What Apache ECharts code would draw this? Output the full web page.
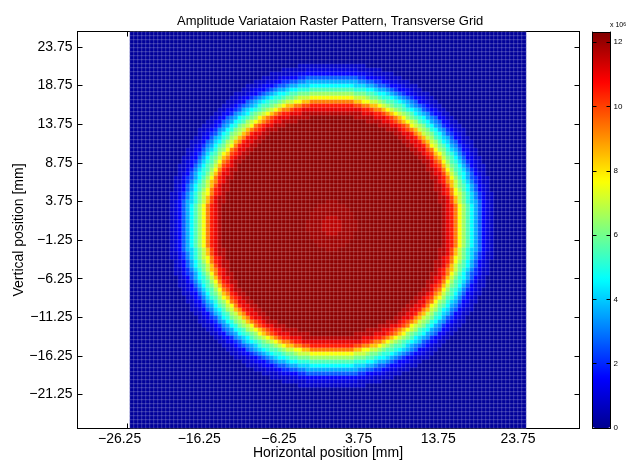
<!DOCTYPE html>
<html>
<head>
<meta charset="utf-8">
<style>html,body{margin:0;padding:0;background:#fff}#c{width:636px;height:460px}</style>
<script src="https://cdn.jsdelivr.net/npm/echarts@6/dist/echarts.min.js"></script>
</head>
<body>
<div id="c"></div>
<script>
// Estimates from the picture, not exact measurements: the disc is stored as, for each row away
// from its centre, the half-width in cells of every colour band. Top and bottom are mirrored.
const xTicks = [-26.25, -16.25, -6.25, 3.75, 13.75, 23.75];
const yTicks = [-21.25, -16.25, -11.25, -6.25, -1.25, 3.75, 8.75, 13.75, 18.75, 23.75];
const barTicks = [0, 2, 4, 6, 8, 10, 12];
const innerBandValues = [12.15, 11.7, 11.1, 10.5, 10.0, 9.3];
const bandValues = [9.3, 8.5, 7.6, 7.0, 6.5, 6.0, 5.5, 5.05, 4.6, 4.1, 3.6, 3.1, 2.6, 2.05, 1.5, 1.3, 1.05, 0.75];
const backgroundValue = 0.15;
const spotValues = [11.6, 11.95];
const spotHalfWidths = [[2, 2, 1], [6, 6, 5, 5, 4, 3, 1]];
const innerBandHalfWidths = [
 [27,28,29,30,30,31],[27,28,29,30,30,31],[27,28,29,30,30,31],[27,28,29,30,30,31],
 [27,28,29,30,30,31],[27,28,29,30,30,31],[26,28,29,29,30,30],[26,28,29,29,30,30],
 [26,27,28,29,29,30],[25,27,28,29,29,30],[25,27,28,28,29,29],[25,26,27,28,28,29],
 [24,26,27,28,28,29],[24,25,27,27,28,28],[23,25,26,27,27,28],[23,24,25,26,27,27],
 [22,24,25,25,26,27],[21,23,24,25,25,26],[20,22,23,24,25,25],[19,21,23,23,24,25],
 [18,20,22,23,23,24],[17,19,21,22,22,23],[16,18,20,21,21,22],[15,17,19,20,20,21],
 [13,16,17,18,19,20],[11,14,16,17,18,19],[8,12,14,15,16,17],[5,10,13,14,15,16],
 [-1,7,10,12,13,14],[-1,-1,7,9,10,12],[-1,-1,-1,5,7,9],[-1,-1,-1,-1,-1,5]
];
const bandHalfWidths = [
 [30,31,32,32,33,33,34,34,35,35,36,36,37,37,38,38,39,40],
 [30,31,32,32,33,33,34,34,35,35,36,36,37,37,38,38,39,40],
 [30,31,32,32,33,33,34,34,35,35,36,36,37,37,38,38,39,40],
 [30,31,32,32,33,33,34,34,35,35,36,36,37,37,38,38,39,40],
 [30,31,32,32,33,33,34,34,35,35,36,36,37,37,38,38,39,40],
 [30,31,32,32,33,33,34,34,35,35,36,36,37,37,38,38,39,40],
 [30,31,31,32,32,33,33,34,34,35,36,36,37,37,38,38,39,40],
 [30,31,31,32,32,33,33,34,34,35,35,36,36,37,37,38,38,40],
 [29,30,31,32,32,33,33,34,34,35,35,36,36,37,37,38,38,40],
 [29,30,31,31,32,32,33,33,34,34,35,35,36,36,37,37,38,39],
 [29,30,30,31,31,32,33,33,34,34,35,35,36,36,37,37,38,39],
 [28,30,30,31,31,32,32,33,33,34,34,35,35,36,36,37,37,39],
 [28,29,30,30,31,31,32,32,33,33,34,34,35,36,36,37,37,39],
 [28,29,29,30,30,31,31,32,33,33,34,34,35,35,36,36,37,38],
 [27,28,29,29,30,30,31,32,32,33,33,34,34,35,35,36,36,38],
 [27,28,28,29,29,30,31,31,32,32,33,33,34,34,35,35,36,38],
 [26,27,28,28,29,29,30,31,31,32,32,33,33,34,35,35,36,37],
 [25,27,27,28,28,29,30,30,31,31,32,32,33,33,34,35,35,37],
 [25,26,27,27,28,28,29,30,30,31,31,32,32,33,34,34,35,36],
 [24,25,26,26,27,28,28,29,29,30,31,31,32,32,33,34,34,36],
 [23,24,25,26,26,27,28,28,29,29,30,31,31,32,32,33,34,35],
 [22,24,24,25,26,26,27,27,28,29,29,30,31,31,32,32,33,35],
 [21,23,23,24,25,25,26,27,27,28,29,29,30,30,31,32,32,34],
 [20,22,22,23,24,25,25,26,27,27,28,28,29,30,30,31,32,33],
 [19,21,21,22,23,24,24,25,26,26,27,28,28,29,30,30,31,33],
 [18,19,20,21,22,23,23,24,25,25,26,27,27,28,29,29,30,32],
 [16,18,19,20,21,21,22,23,24,24,25,26,27,27,28,29,29,31],
 [15,17,18,18,19,20,21,22,23,23,24,25,26,26,27,28,28,30],
 [13,15,16,17,18,19,20,20,21,22,23,24,24,25,26,27,27,29],
 [10,13,14,15,16,17,18,19,20,21,22,22,23,24,25,26,26,28],
 [7,11,12,13,14,15,17,18,18,19,20,21,22,23,24,24,25,27],
 [-1,7,9,11,12,13,15,16,17,18,19,20,21,21,22,23,24,26],
 [-1,-1,5,8,9,11,12,14,15,16,17,18,19,20,21,22,23,25],
 [-1,-1,-1,-1,5,8,10,11,13,14,15,16,17,18,19,20,21,24],
 [-1,-1,-1,-1,-1,-1,5,8,10,11,13,14,15,16,18,19,20,22],
 [-1,-1,-1,-1,-1,-1,-1,-1,5,8,10,11,13,14,16,17,18,21],
 [-1,-1,-1,-1,-1,-1,-1,-1,-1,-1,6,8,10,12,13,14,16,19],
 [-1,-1,-1,-1,-1,-1,-1,-1,-1,-1,-1,-1,6,8,10,12,13,17],
 [-1,-1,-1,-1,-1,-1,-1,-1,-1,-1,-1,-1,-1,-1,6,8,10,15],
 [-1,-1,-1,-1,-1,-1,-1,-1,-1,-1,-1,-1,-1,-1,-1,-1,6,12],
 [-1,-1,-1,-1,-1,-1,-1,-1,-1,-1,-1,-1,-1,-1,-1,-1,-1,8]
];
const colCount = 99, rowCount = 99, centreCol = 50, centreRow = 48;
const jet = ['#00008f','#0000ff','#007fff','#00ffff','#7fff7f','#ffff00','#ff7f00','#ff0000','#800000'];

const cells = [];
for (let row = 0; row < rowCount; row++) {
  const dy = Math.abs(row - centreRow);
  const widths = bandHalfWidths[dy];
  const inner = innerBandHalfWidths[dy];
  for (let col = 0; col < colCount; col++) {
    const dx = Math.abs(col - centreCol);
    let v = backgroundValue;
    if (widths) {
      const k = widths.findIndex(w => dx <= w);
      if (k >= 0) v = bandValues[k];
    }
    if (inner) {
      const k = inner.findIndex(w => dx <= w);
      if (k >= 0) v = innerBandValues[k];
    }
    for (let s = spotValues.length - 1; s >= 0; s--) {
      if (dy < spotHalfWidths[s].length && dx <= spotHalfWidths[s][dy]) v = spotValues[s];
    }
    cells.push([col, row, v]);
  }
}

const fmt = v => Number(v).toFixed(2).replace('-', '\u2212');
const idx = n => Array.from({length: n}, (_, i) => i);
const line = {show: true, lineStyle: {color: '#000', width: 1}};
const font = {color: '#000', fontSize: 14, fontFamily: 'Liberation Sans'};
const xRange = {min: -32.47, max: 30.53}, yRange = {min: -25.65, max: 25.755};

const frameX = (position, labels) => ({
  type: 'value', gridIndex: 0, position, ...xRange, splitLine: {show: false}, axisLine: {...line, onZero: false},
  axisTick: {show: true, inside: true, length: 5, customValues: xTicks, lineStyle: {color: '#000'}},
  axisLabel: {show: labels, customValues: xTicks, formatter: fmt, margin: 4, padding: [0, 15, 0, 0], ...font}
});
const frameY = (position, labels) => ({
  type: 'value', gridIndex: 0, position, ...yRange, splitLine: {show: false}, axisLine: {...line, onZero: false},
  axisTick: {show: true, inside: true, length: 5, customValues: yTicks, lineStyle: {color: '#000'}},
  axisLabel: {show: labels, customValues: yTicks, formatter: fmt, margin: 5, ...font}
});
const barY = (position, labels) => ({
  type: 'value', gridIndex: 2, position, min: 0, max: 12.32, z: 10, splitLine: {show: false},
  axisLine: {...line, onZero: false},
  axisTick: {show: true, inside: true, length: 4, customValues: barTicks, lineStyle: {color: '#000'}},
  axisLabel: {show: labels, customValues: barTicks, margin: 3, color: '#000', fontSize: 8, fontFamily: 'Liberation Sans'}
});
const barX = position => ({
  type: 'value', gridIndex: 2, position, min: 0, max: 1, z: 10, splitLine: {show: false},
  axisLine: {...line, onZero: false}, axisTick: {show: false}, axisLabel: {show: false}
});
const nameStyle = text => ({text, fill: '#000', fontSize: 14, fontFamily: 'Liberation Sans', align: 'center', verticalAlign: 'middle'});

const chart = echarts.init(document.getElementById('c'), null, {renderer: 'canvas'});
chart.setOption({
  animation: false,
  backgroundColor: '#fff',
  title: {
    text: 'Amplitude Variataion Raster Pattern, Transverse Grid',
    left: 177, top: 15, padding: 0,
    textStyle: {color: '#000', fontSize: 13, fontWeight: 'normal', fontFamily: 'Liberation Sans'}
  },
  grid: [
    {left: 77.5, top: 31.5, width: 502, height: 397, outerBoundsMode: 'none'},
    {left: 130, top: 32, width: 396, height: 396, outerBoundsMode: 'none'},
    {left: 592.5, top: 32, width: 18, height: 396, outerBoundsMode: 'none'}
  ],
  xAxis: [
    frameX('bottom', true), frameX('top', false),
    {type: 'category', gridIndex: 1, data: idx(colCount), show: false},
    barX('bottom'), barX('top')
  ],
  yAxis: [
    frameY('left', true), frameY('right', false),
    {type: 'category', gridIndex: 1, data: idx(rowCount), inverse: true, show: false},
    barY('left', false), barY('right', true)
  ],
  visualMap: {
    type: 'continuous', min: 0, max: 12.32, seriesIndex: 0, calculable: false,
    left: 592.5, top: 32, itemWidth: 18, itemHeight: 396, padding: 0, text: null, showLabel: false,
    inRange: {color: jet}, textStyle: {fontSize: 0}
  },
  graphic: [
    {type: 'text', x: 328, y: 453, style: nameStyle('Horizontal position [mm]')},
    {type: 'text', x: 19, y: 230, rotation: Math.PI / 2, style: nameStyle('Vertical position [mm]')},
    {
      type: 'text', x: 610, y: 22,
      style: {
        text: '{a|x 10}{b|6}',
        rich: {
          a: {fontSize: 7, fill: '#000', fontFamily: 'Liberation Sans'},
          b: {fontSize: 5, fill: '#000', fontFamily: 'Liberation Sans', verticalAlign: 'top'}
        }
      }
    }
  ],
  series: [{
    type: 'heatmap', xAxisIndex: 2, yAxisIndex: 2, data: cells, progressive: 0,
    itemStyle: {borderColor: 'rgba(255,255,255,0.2)', borderWidth: 1},
    emphasis: {disabled: true}
  }]
});
</script>
</body>
</html>
